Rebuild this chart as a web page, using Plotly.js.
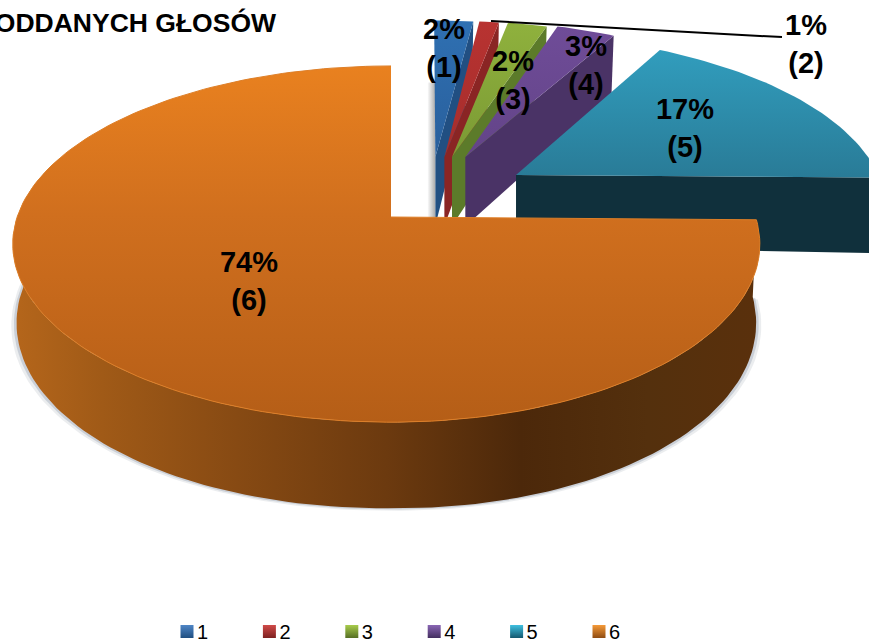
<!DOCTYPE html>
<html>
<head>
<meta charset="utf-8">
<script src="https://cdn.plot.ly/plotly-3.0.1.min.js"></script>
<style>html,body{margin:0;padding:0;background:#fff;overflow:hidden}#c{width:869px;height:642px}</style>
</head>
<body>
<div id="c"></div>
<script>
// ---- data ----
const categories = ['1','2','3','4','5','6'];
const shares = [2,1,2,3,17,74];
const titleText = 'ODDANYCH GŁOSÓW';

// ---- styling ----
const topColors = [['#2f70b2','#295f9c'],['#b83331','#a52d2c'],['#8fb13d','#7b9a34'],['#6f4c98','#634488'],['#319dbd','#297b97'],['#e9811f','#b55e17']];
const faceColors = ['#214f82','#8a2524','#5c7b2a','#4a3366','#10303c','#000'];
const keyColors = [['#4f86c6','#1f4e80'],['#d04a48','#7d2120'],['#a8cc4c','#566f24'],['#8a66b4','#432e60'],['#3fc0e0','#14586f'],['#f59a38','#8f4c12']];
// explosion of every slice, in units of the pie radius, and screen nudge of its tip
const explodeX = [0.14,0.16,0.19,0.225,0.36,0];
const explodeY = [-0.364,-0.364,-0.364,-0.364,-0.25,0];
const tipNudge = [-5,-3,-6,-5,-4,0];
const labelX = [444,806,513,586,685,249];
const labelY = [50.5,47,83,68,131,284];

// ---- projection of the tilted pie to the page axes ----
const CX=391, CY=217, BX=372, AY=174, K=0.152;
function topPt(X,Y){const d=1-K*Y;return [CX+BX*X/d, CY+AY*Y/d];}
function depthAt(X,Y){return 73+13*Y+4*Math.abs(X);}
function botPt(X,Y){const p=topPt(X,Y);return [CX+(p[0]-CX)*0.99, p[1]+depthAt(X,Y)];}
function rim(i,deg,fn){
  const a=deg*Math.PI/180; let X=Math.sin(a),Y=-Math.cos(a);
  if(i===5) X*= X>0?0.98:1.005;
  return fn(X+explodeX[i],Y+explodeY[i]);
}
function arc(i,a,b,fn){const n=Math.max(2,Math.ceil(Math.abs(b-a)/1.5)),o=[];
  for(let s=0;s<=n;s++) o.push(rim(i,a+(b-a)*s/n,fn)); return o;}
const total=shares.reduce((p,c)=>p+c,0);
let run=0; const startDeg=[],endDeg=[];
shares.forEach(v=>{startDeg.push(run/total*360);run+=v;endDeg.push(run/total*360);});

function poly(pts,extra){
  return Object.assign({type:'scatter',mode:'lines',x:pts.map(p=>p[0]),y:pts.map(p=>p[1]),
    fill:'toself',line:{width:0},hoverinfo:'skip',showlegend:false},extra);
}
const traces=[];
// exploded slices, back to front
for(let i=0;i<5;i++){
  const at=topPt(explodeX[i],explodeY[i]), ab=botPt(explodeX[i],explodeY[i]);
  at[0]+=tipNudge[i];
  ab[0]=at[0];
  if(i===0){ // soft shadow beside the first slice
    const o=rim(0,startDeg[0],topPt);
    traces.push(poly([[at[0]-8,o[1]+62],[at[0],o[1]+62],[at[0],ab[1]],[at[0]-8,ab[1]]],
      {fillcolor:'#bbb',fillgradient:{type:'horizontal',start:at[0]-8,stop:at[0],colorscale:[[0,'#ffffff'],[1,'#a9a9a9']]}}));
  }
  // visible radial cut face
  const oTop=rim(i,endDeg[i],topPt), oBot=rim(i,endDeg[i],botPt);
  traces.push(poly([at,oTop,oBot,ab],{fillcolor:faceColors[i]}));
  // top surface
  const surf=[at].concat(arc(i,startDeg[i],endDeg[i],topPt));
  const ys=surf.map(p=>p[1]);
  traces.push(poly(surf,{fillcolor:topColors[i][0],
    fillgradient:{type:'vertical',start:Math.min(...ys),stop:Math.max(...ys),colorscale:[[0,topColors[i][0]],[1,topColors[i][1]]]}}));
}
// big slice: shadow, wall, top
const bArc=arc(5,startDeg[5],startDeg[5]+200,botPt);
[[1.014,2.5,'rgba(110,125,145,0.14)'],[1.007,1.2,'rgba(110,125,145,0.26)']].forEach(s=>{
  traces.push(poly(bArc.map(p=>[CX+(p[0]-CX)*s[0],p[1]+s[1]]),{fillcolor:s[2]}));
});
const tArc=arc(5,startDeg[5],startDeg[5]+200,topPt);
const wall=tArc.concat(bArc.slice().reverse());
const wx=wall.map(p=>p[0]);
traces.push(poly(wall,{fillcolor:'#7a4212',fillgradient:{type:'horizontal',start:Math.min(...wx),stop:Math.max(...wx),
  colorscale:[[0,'#b5661b'],[0.12,'#a05a17'],[0.3,'#874a13'],[0.5,'#6c3a0f'],[0.68,'#4c280a'],[0.85,'#54300d'],[1,'#5a300c']]}}));
const surf6=[topPt(0,0)].concat(arc(5,startDeg[5],360,topPt));
const ys6=surf6.map(p=>p[1]);
traces.push(poly(surf6,{fillcolor:topColors[5][0],line:{width:1,color:'#de7f28'},
  fillgradient:{type:'vertical',start:Math.min(...ys6),stop:Math.max(...ys6),colorscale:[[0,topColors[5][0]],[0.42,'#d06f1e'],[1,topColors[5][1]]]}}));
// value labels
traces.push({type:'scatter',mode:'text',x:labelX,y:labelY,
  text:shares.map((v,i)=>v+'%<br>('+categories[i]+')'),textposition:'middle center',cliponaxis:false,
  textfont:{family:'"Liberation Sans",Arial,sans-serif',size:29,color:'#000',weight:700},
  hoverinfo:'skip',showlegend:false});
// legend keys
categories.forEach((c,i)=>traces.push({type:'scatter',mode:'markers',x:[null],y:[null],name:c,showlegend:true,hoverinfo:'skip',
  marker:{symbol:'square',size:13,color:keyColors[i][0],gradient:{type:'vertical',color:keyColors[i][1]},line:{width:0}}}));

const layout={
  width:869,height:642,margin:{l:0,r:0,t:0,b:0,pad:0,autoexpand:false},paper_bgcolor:'#fff',plot_bgcolor:'#fff',
  title:{text:'<b>'+titleText+'</b>',x:276/869,xref:'paper',xanchor:'right',y:1-23/642,yref:'container',yanchor:'middle',
    font:{family:'"Liberation Sans",Arial,sans-serif',size:26.5,color:'#000'},pad:{l:0,r:0,t:0,b:0},automargin:false},
  xaxis:{range:[0,869],visible:false,fixedrange:true},
  yaxis:{range:[642,0],visible:false,fixedrange:true},
  showlegend:true,
  legend:{orientation:'h',x:157/869,xanchor:'left',y:1-612/642,yanchor:'top',bgcolor:'rgba(0,0,0,0)',
    entrywidth:37.4,entrywidthmode:'pixels',itemclick:false,itemdoubleclick:false,traceorder:'normal',
    font:{family:'"Liberation Sans",Arial,sans-serif',size:20,color:'#000'}},
  shapes:[{type:'path',xref:'x',yref:'y',path:'M491,21 L760,36 L782,37',line:{color:'#000',width:2}}],
  hovermode:false
};
Plotly.newPlot('c',traces,layout,{displayModeBar:false,staticPlot:true}).then(()=>{
  document.querySelectorAll('.legendsymbols').forEach(g=>g.setAttribute('transform','translate(10,0)'));
});
</script>
</body>
</html>
